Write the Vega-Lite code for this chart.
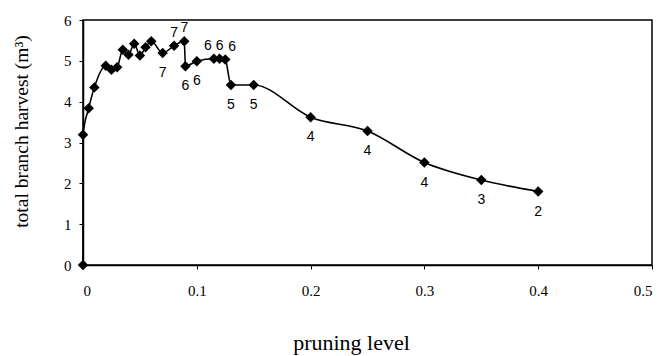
{
  "$schema": "https://vega.github.io/schema/vega-lite/v6.json",
  "width": 569,
  "height": 245,
  "autosize": {"type": "none"},
  "padding": {"left": 83, "top": 20, "right": 9, "bottom": 91},
  "background": "white",
  "config": {
    "view": {"stroke": "black", "strokeWidth": 1.5},
    "axis": {
      "grid": false,
      "domainColor": "black",
      "domainWidth": 1.5,
      "tickColor": "black",
      "tickSize": 4,
      "labelFont": "Liberation Serif",
      "labelFontSize": 15,
      "labelColor": "black",
      "titleFont": "Liberation Serif",
      "titleFontWeight": "normal",
      "titleColor": "black"
    }
  },
  "data": {
    "values": [
      {"x": 0, "y": 0, "label": "", "side": "none"},
      {"x": 0, "y": 3.19, "label": "", "side": "none"},
      {"x": 0.005, "y": 3.84, "label": "", "side": "none"},
      {"x": 0.01, "y": 4.35, "label": "", "side": "none"},
      {"x": 0.02, "y": 4.88, "label": "", "side": "none"},
      {"x": 0.025, "y": 4.78, "label": "", "side": "none"},
      {"x": 0.03, "y": 4.84, "label": "", "side": "none"},
      {"x": 0.035, "y": 5.27, "label": "", "side": "none"},
      {"x": 0.04, "y": 5.15, "label": "", "side": "none"},
      {"x": 0.045, "y": 5.42, "label": "", "side": "none"},
      {"x": 0.05, "y": 5.13, "label": "", "side": "none"},
      {"x": 0.055, "y": 5.33, "label": "", "side": "none"},
      {"x": 0.06, "y": 5.48, "label": "", "side": "none"},
      {"x": 0.07, "y": 5.19, "label": "7", "side": "below"},
      {"x": 0.08, "y": 5.37, "label": "7", "side": "above"},
      {"x": 0.089, "y": 5.48, "label": "7", "side": "above"},
      {"x": 0.09, "y": 4.87, "label": "6", "side": "below"},
      {"x": 0.1, "y": 4.99, "label": "6", "side": "below"},
      {"x": 0.115, "y": 5.05, "label": "6", "side": "aboveLeft"},
      {"x": 0.12, "y": 5.05, "label": "6", "side": "above"},
      {"x": 0.125, "y": 5.03, "label": "6", "side": "aboveRight"},
      {"x": 0.13, "y": 4.41, "label": "5", "side": "below"},
      {"x": 0.15, "y": 4.41, "label": "5", "side": "below"},
      {"x": 0.2, "y": 3.62, "label": "4", "side": "below"},
      {"x": 0.25, "y": 3.28, "label": "4", "side": "below"},
      {"x": 0.3, "y": 2.51, "label": "4", "side": "below"},
      {"x": 0.35, "y": 2.08, "label": "3", "side": "below"},
      {"x": 0.4, "y": 1.8, "label": "2", "side": "below"}
    ]
  },
  "encoding": {
    "x": {
      "field": "x", "type": "quantitative",
      "scale": {"domain": [0, 0.5], "nice": false, "zero": false},
      "axis": {"values": [0, 0.1, 0.2, 0.3, 0.4, 0.5], "format": "~g", "labelPadding": 14, "title": "pruning level", "titleFontSize": 22, "titlePadding": 34, "titleX": 268}
    },
    "y": {
      "field": "y", "type": "quantitative",
      "scale": {"domain": [0, 6], "nice": false},
      "axis": {"values": [0, 1, 2, 3, 4, 5, 6], "labelPadding": 8, "title": "total branch harvest (m³)", "titleFontSize": 19.5, "titlePadding": 32, "titleY": 111}
    }
  },
  "layer": [
    {
      "mark": {"type": "line", "color": "black", "strokeWidth": 1.6, "interpolate": "monotone"},
      "encoding": {"order": {"field": "x"}}
    },
    {
      "mark": {"type": "point", "shape": "diamond", "filled": true, "color": "black", "size": 110, "opacity": 1}
    },
    {
      "transform": [{"filter": "datum.side == 'below'"}],
      "mark": {"type": "text", "font": "Liberation Sans", "fontSize": 14, "color": "black", "baseline": "middle", "dy": 20},
      "encoding": {"text": {"field": "label"}}
    },
    {
      "transform": [{"filter": "datum.side == 'above'"}],
      "mark": {"type": "text", "font": "Liberation Sans", "fontSize": 14, "color": "black", "baseline": "middle", "dy": -13},
      "encoding": {"text": {"field": "label"}}
    },
    {
      "transform": [{"filter": "datum.side == 'aboveLeft'"}],
      "mark": {"type": "text", "font": "Liberation Sans", "fontSize": 14, "color": "black", "baseline": "middle", "dy": -13, "dx": -6},
      "encoding": {"text": {"field": "label"}}
    },
    {
      "transform": [{"filter": "datum.side == 'aboveRight'"}],
      "mark": {"type": "text", "font": "Liberation Sans", "fontSize": 14, "color": "black", "baseline": "middle", "dy": -13, "dx": 7},
      "encoding": {"text": {"field": "label"}}
    }
  ]
}
